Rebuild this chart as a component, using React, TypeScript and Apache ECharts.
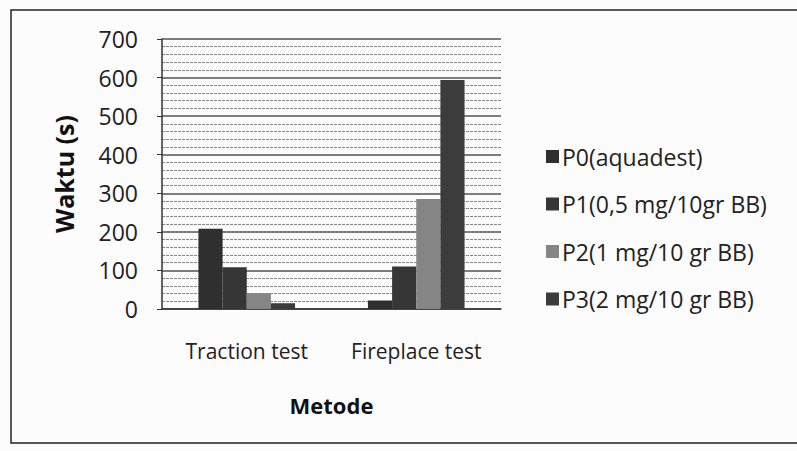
import React, { useEffect, useRef } from "react";
import * as echarts from "echarts";

const categories = ["Traction test", "Fireplace test"];
const seriesNames = ["P0(aquadest)", "P1(0,5 mg/10gr BB)", "P2(1 mg/10 gr BB)", "P3(2 mg/10 gr BB)"];
const p0 = [208, 22];
const p1 = [108, 110];
const p2 = [41, 285];
const p3 = [15, 594];
const seriesValues = [p0, p1, p2, p3];
const seriesColors = ["#2f2f2f", "#363636", "#858585", "#3c3c3c"];

const FONT = "'Open Sans', sans-serif";

export default function App() {
  const ref = useRef<HTMLDivElement>(null);
  useEffect(() => {
    if (!ref.current) return;
    const chart = echarts.init(ref.current, undefined, { renderer: "svg" });
    chart.setOption({
      animation: false,
      backgroundColor: "#fcfcfc",
      textStyle: { fontFamily: FONT },
      graphic: [
        {
          type: "rect",
          shape: { x: 11, y: 10, width: 800, height: 433 },
          style: { fill: "none", stroke: "#222", lineWidth: 1.5 },
        },
      ],
      legend: {
        orient: "vertical",
        left: 541,
        top: 139,
        itemWidth: 13,
        itemHeight: 13,
        itemGap: 22.5,
        icon: "rect",
        textStyle: { fontSize: 23, lineHeight: 25, color: "#222", fontFamily: FONT, padding: [0, 0, 0, -2] },
        data: seriesNames,
      },
      grid: { left: 162, right: 296, top: 39, bottom: 142, containLabel: false },
      xAxis: {
        type: "category",
        data: categories,
        name: "Metode",
        nameLocation: "middle",
        nameGap: 85,
        nameTextStyle: { fontSize: 22, fontWeight: "bold", color: "#111", fontFamily: FONT },
        axisLine: { lineStyle: { color: "#333", width: 1.5 } },
        axisTick: { show: false },
        axisLabel: { fontSize: 21, color: "#222", margin: 31, interval: 0, hideOverlap: false, fontFamily: FONT },
      },
      yAxis: {
        type: "value",
        min: 0,
        max: 700,
        interval: 100,
        name: "Waktu (s)",
        nameLocation: "middle",
        nameGap: 86,
        nameTextStyle: { fontSize: 25, fontWeight: "bold", color: "#111", fontFamily: FONT },
        axisLine: { show: true, lineStyle: { color: "#333", width: 1.5 } },
        axisTick: { show: true, length: 5, lineStyle: { color: "#333" } },
        axisLabel: { fontSize: 23, color: "#222", margin: 24, fontFamily: FONT },
        splitLine: { show: true, lineStyle: { color: "#555", width: 1.5 } },
        minorTick: { show: false, splitNumber: 5 },
        minorSplitLine: { show: true, lineStyle: { color: "#888", width: 1, type: [3, 1] } },
      },
      series: seriesNames.map((name, i) => ({
        name,
        type: "bar",
        data: seriesValues[i],
        barGap: "0%",
        barCategoryGap: "43%",
        itemStyle: { color: seriesColors[i] },
      })),
    });
    return () => chart.dispose();
  }, []);
  return <div ref={ref} style={{ width: 797, height: 451, position: "absolute", left: 0, top: 0 }} />;
}
